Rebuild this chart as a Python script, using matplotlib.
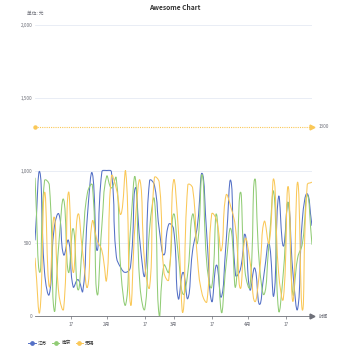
import numpy as np
import pandas as pd
import matplotlib
matplotlib.use('Agg')
import matplotlib.pyplot as plt
import matplotlib.dates as mdates
from matplotlib.path import Path
from matplotlib.patches import PathPatch
from matplotlib.lines import Line2D

plt.rcParams['font.family'] = ['Noto Sans CJK SC', 'DejaVu Sans']

# 数据: 每两天一个点
dates = pd.date_range('2019-01-02', periods=59, freq='2D')
series_names = ['江苏', '南京', '无锡']
colors = ['#5470c6', '#91cc75', '#fac858']

jiangsu = [520, 990, 300, 150, 600, 700, 420, 520, 200, 250,
           170, 700, 980, 450, 990, 1000, 990, 420, 330, 300,
           340, 880, 500, 280, 930, 900, 600, 420, 630, 600,
           120, 300, 120, 450, 620, 980, 540, 100, 350, 130,
           500, 930, 280, 320, 560, 180, 330, 80, 300, 500,
           140, 820, 480, 780, 300, 50, 670, 840, 620]
nanjing = [950, 300, 930, 900, 40, 500, 800, 300, 600, 180,
           520, 850, 900, 150, 620, 960, 880, 950, 300, 80,
           600, 950, 200, 50, 600, 800, 5, 350, 300, 700,
           420, 150, 300, 700, 500, 970, 350, 200, 700, 30,
           350, 600, 200, 850, 300, 200, 940, 350, 150, 500,
           850, 40, 300, 780, 150, 400, 500, 830, 490]
wuxi = [400, 30, 850, 200, 680, 150, 50, 850, 300, 700,
        430, 200, 650, 520, 450, 250, 960, 880, 700, 990,
        80, 650, 930, 350, 200, 950, 920, 300, 250, 930,
        600, 30, 900, 880, 400, 150, 100, 700, 660, 450,
        830, 750, 600, 190, 530, 380, 100, 300, 650, 500,
        940, 300, 120, 890, 100, 920, 40, 900, 920]
all_values = [jiangsu, nanjing, wuxi]

mark_value = 1300
y_ticks = [0, 500, 1000, 1500, 2000]
x_tick_dates = ['2019-01-17', '2019-02-01', '2019-02-17', '2019-03-01',
                '2019-03-17', '2019-04-01', '2019-04-17']
x_tick_labels = ['17', '2月', '17', '3月', '17', '4月', '17']

axis_gray = '#6E7079'
fs = 3.4

fig = plt.figure(figsize=(3.5, 3.5), dpi=100)
ax = fig.add_axes([35/350, 34/350, 277/350, 291/350])

x = mdates.date2num(dates)
ax.set_xlim(x[0], x[-1])
ax.set_ylim(0, 2000)


def smooth_path(xs, ys, smooth=0.5):
    # echarts 风格的平滑曲线 (贝塞尔控制点)
    pts = ax.transData.transform(np.column_stack([xs, ys]))
    data = np.column_stack([xs, ys])
    n = len(xs)
    cp0 = data.copy()
    cp1 = data.copy()
    for i in range(n):
        pi = i - 1 if i > 0 else i
        ni = i + 1 if i < n - 1 else i
        v = data[ni] - data[pi]
        l0 = np.hypot(*(pts[i] - pts[pi]))
        l1 = np.hypot(*(pts[ni] - pts[i]))
        r = l1 / (l0 + l1) if (l0 + l1) > 0 else 0.5
        cp0[i] = data[i] - v * smooth * (1 - r)
        cp1[i] = data[i] + v * smooth * r
    verts = [data[0]]
    codes = [Path.MOVETO]
    for i in range(n - 1):
        verts += [cp1[i], cp0[i + 1], data[i + 1]]
        codes += [Path.CURVE4] * 3
    return Path(verts, codes)


for vals, c in zip(all_values, colors):
    p = smooth_path(x, np.array(vals, dtype=float))
    ax.add_patch(PathPatch(p, facecolor='none', edgecolor=c, lw=0.75, zorder=3))

# 标线 1300
ax.axhline(mark_value, color=colors[2], lw=0.8, ls=(0, (1, 1)), zorder=2)
ax.plot([x[0]], [mark_value], marker='o', ms=2.2, color=colors[2], clip_on=False, zorder=4)
ax.plot([x[-1]], [mark_value], marker='>', ms=3.5, color=colors[2], clip_on=False, zorder=4)
ax.text(1.025, mark_value, str(mark_value), transform=ax.get_yaxis_transform(),
        fontsize=fs, color=axis_gray, va='center', ha='left')

# y 轴
ax.set_yticks(y_ticks)
ax.set_yticklabels([f'{v:,}' for v in y_ticks])
ax.grid(axis='y', color='#E0E6F1', lw=0.5)
ax.set_axisbelow(True)
for s in ['top', 'right', 'left']:
    ax.spines[s].set_visible(False)
ax.spines['bottom'].set_color(axis_gray)
ax.spines['bottom'].set_linewidth(0.6)
ax.tick_params(axis='y', length=0, labelsize=fs, labelcolor=axis_gray, pad=2)

# x 轴
ax.set_xticks(mdates.date2num(pd.to_datetime(x_tick_dates)))
ax.set_xticklabels(x_tick_labels)
ax.tick_params(axis='x', length=2, width=0.5, color=axis_gray,
               labelsize=fs, labelcolor=axis_gray, pad=2)
ax.plot([1.0], [0], marker='>', ms=3.5, color=axis_gray, transform=ax.transAxes,
        clip_on=False, zorder=5)
ax.text(1.025, 0, '时间', transform=ax.transAxes, fontsize=fs, color=axis_gray,
        va='center', ha='left')
ax.text(0, 1.03, '单位: 元', transform=ax.transAxes, fontsize=fs, color=axis_gray,
        va='bottom', ha='center')

fig.text(0.5, 1 - 8/350, 'Awesome Chart', fontsize=4.8, fontweight='bold',
         color='#333333', ha='center', va='center')

handles = [Line2D([0], [0], color=c, lw=0.7, marker='o', ms=2.4) for c in colors]
fig.legend(handles, series_names, loc='center left', bbox_to_anchor=(24/350, 7/350),
           ncol=3, frameon=False, fontsize=fs, handlelength=1.6, handletextpad=0.4,
           columnspacing=1.0, labelcolor='#333333')

fig.savefig('out.png', dpi=100)
